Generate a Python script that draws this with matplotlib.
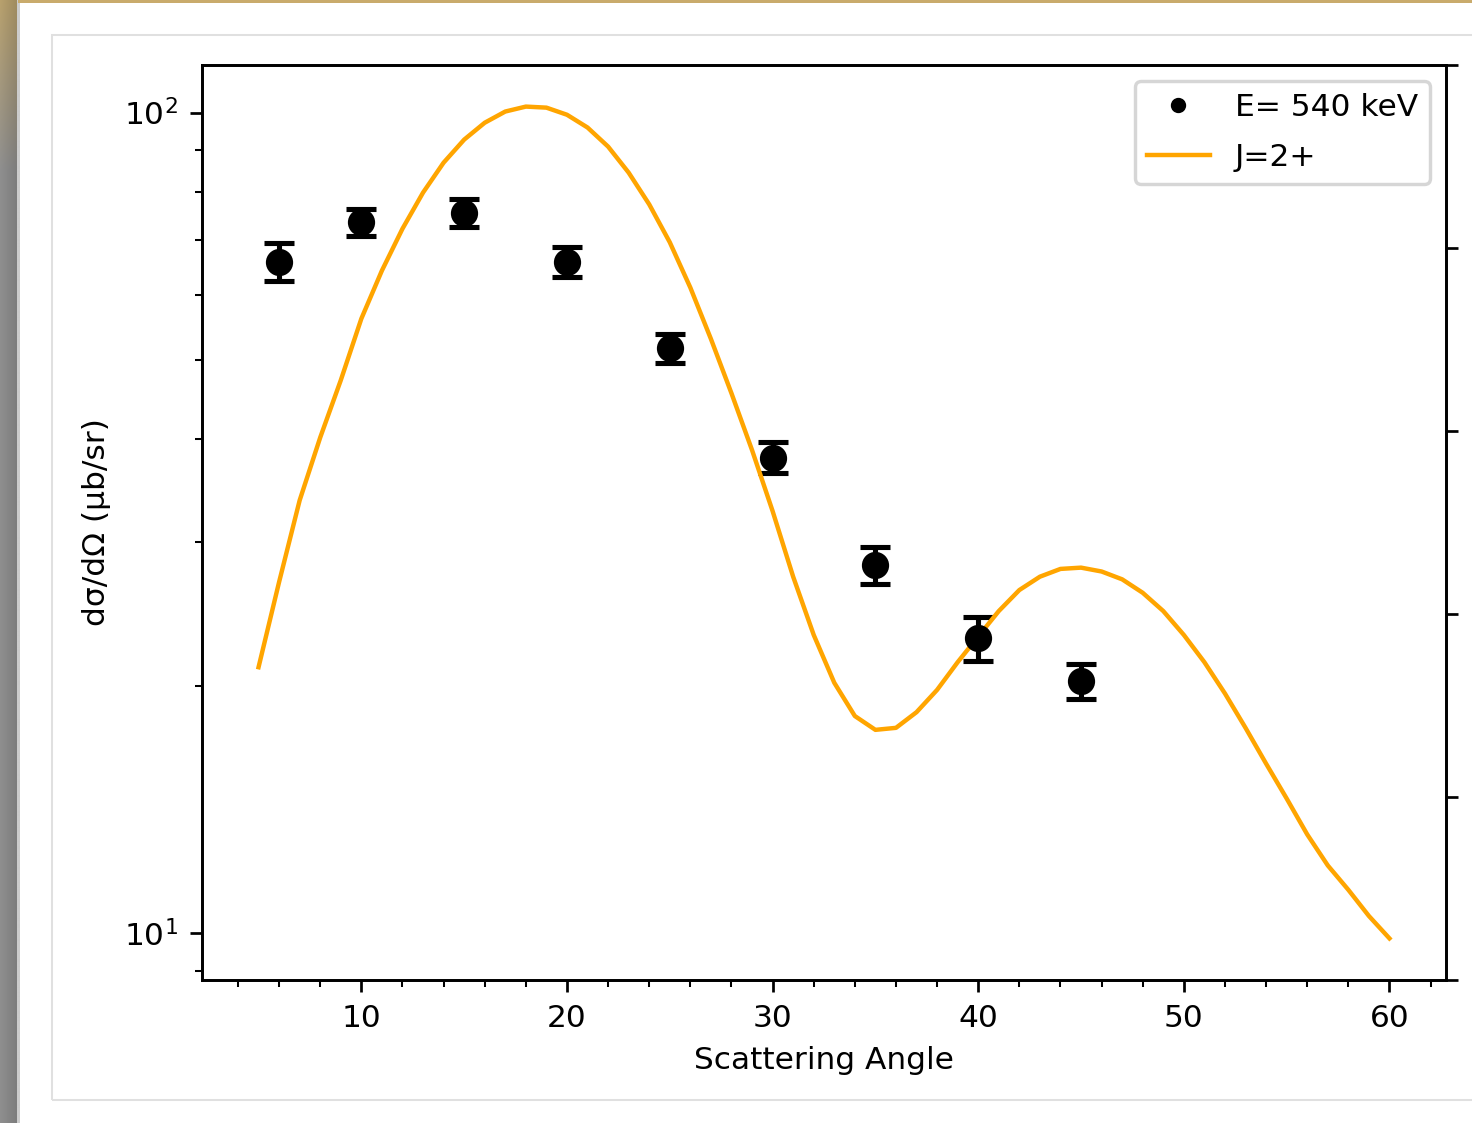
import numpy as np
import matplotlib
matplotlib.use('Agg')
from matplotlib import pyplot as plt
from matplotlib.patches import Rectangle
from matplotlib.lines import Line2D
from matplotlib.ticker import AutoMinorLocator

# measured cross sections
angle_exp = [6, 10, 15, 20, 25, 30, 35, 40, 45]
sigma_exp = [65.8, 73.5, 75.5, 65.8, 51.6, 38.0, 28.1, 22.9, 20.3]
sigma_err = [3.5, 2.8, 3.0, 2.7, 2.1, 1.65, 1.45, 1.4, 1.0]

# calculated curve for J=2+
angle_calc = list(range(5, 61))
sigma_calc = [21.1, 26.8, 33.7, 40.2, 47.2, 56.1, 64.2, 72.2, 79.9, 86.9,
              92.7, 97.2, 100.3, 101.7, 101.4, 99.4, 95.9, 90.9, 84.5, 77.3,
              69.5, 61.2, 53.0, 45.5, 38.8, 32.7, 27.2, 23.1, 20.2, 18.4,
              17.7, 17.8, 18.6, 19.8, 21.4, 23.0, 24.7, 26.2, 27.2, 27.8,
              27.9, 27.6, 27.0, 26.0, 24.7, 23.1, 21.4, 19.6, 17.8, 16.1,
              14.6, 13.2, 12.1, 11.3, 10.5, 9.86]

plt.rcParams['font.size'] = 9.2

W, H = 1472, 1123
dpi = 245
fig = plt.figure(figsize=(W / dpi, H / dpi), dpi=dpi)

# window decoration of the screenshot
fig.patches.append(Rectangle((52 / W, 1 - 1100 / H), 2, (1100 - 35) / H,
                             transform=fig.transFigure, fill=False,
                             edgecolor='#e0e0e0', lw=0.6))
fig.patches.append(Rectangle((18 / W, 1 - 3 / H), 1, 3 / H,
                             transform=fig.transFigure, color='#c9ab6c', lw=0))
strip = fig.add_axes([0, 0, 20 / W, 1])
rows = np.linspace(0, 1, 300)[:, None]
top = np.array([0.72, 0.63, 0.43])
grey = np.array([0.56, 0.56, 0.56])
mix = np.clip(rows / 0.15, 0, 1)
col = top * (1 - mix) + grey * mix
shade = np.linspace(1.0, 0.85, 20)[None, :, None]
img = col[:, None, :] * shade
img[:, -3:, :] = img[:, -3:, :] * 0 + 0.8
strip.imshow(img, aspect='auto', interpolation='bilinear')
strip.axis('off')

ax = fig.add_axes([202 / W, 1 - 980 / H, (1446 - 202) / W, (980 - 65) / H])
ax.errorbar(angle_exp, sigma_exp, yerr=sigma_err, fmt='o', color='black',
            ms=7, capsize=4.5, elinewidth=1.5, capthick=1.5)
line, = ax.plot(angle_calc, sigma_calc, color='orange', lw=1.3)
ax.set_yscale('log')
ax.xaxis.set_minor_locator(AutoMinorLocator())
ax.set_xlabel('Scattering Angle')
ax.set_ylabel('dσ/dΩ (μb/sr)')

handles = [Line2D([], [], ls='none', marker='o', color='black', ms=3.5), line]
ax.legend(handles, ['E= 540 keV', 'J=2+'], loc='upper right', labelspacing=0.65)

ax2 = ax.twinx()
ax2.set_yticklabels([])

fig.savefig('out.png', dpi=dpi)
